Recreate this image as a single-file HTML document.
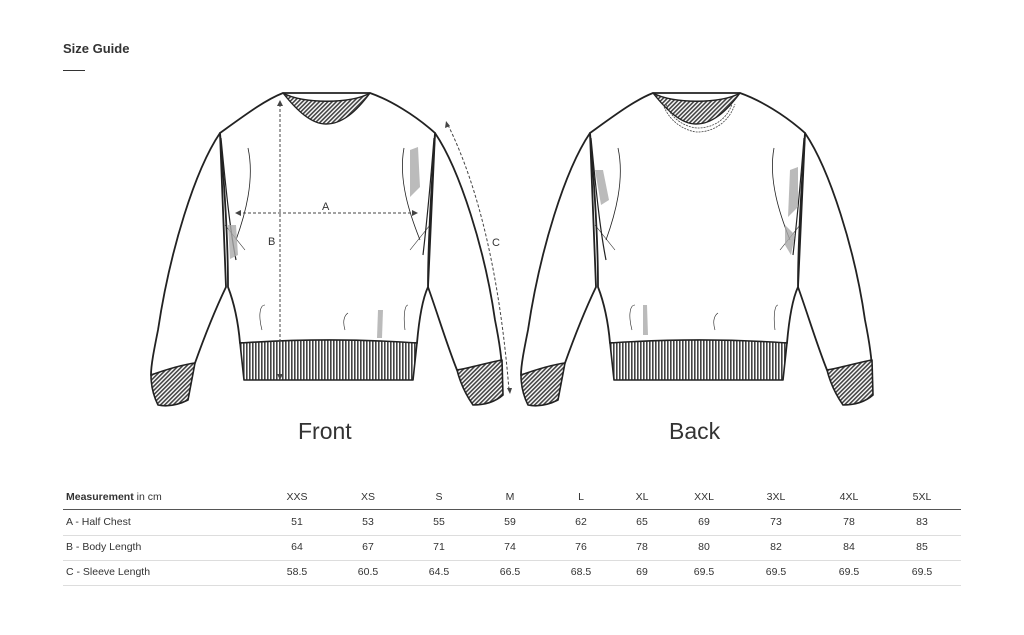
<!DOCTYPE html>
<html><head><meta charset="utf-8">
<style>
body{margin:0;width:1024px;height:635px;background:#fff;font-family:"Liberation Sans",sans-serif;color:#333;position:relative;overflow:hidden}
.t{position:absolute;white-space:nowrap}
.c{position:absolute;transform:translateX(-50%);font-size:10.5px;color:#333}
.ln{position:absolute;left:63px;width:898px;height:1px;background:#ddd}
</style></head><body>
<div class="t" style="left:63px;top:41px;font-size:13px;font-weight:bold;color:#333">Size Guide</div>
<div style="position:absolute;left:63px;top:70px;width:22px;height:1px;background:#333"></div>

<svg width="1024" height="635" style="position:absolute;left:0;top:0">
<defs>
<pattern id="rib" width="3" height="10" patternUnits="userSpaceOnUse"><rect width="3" height="10" fill="#fff"/><rect width="1.6" height="10" fill="#444"/></pattern>
<pattern id="diag" width="3" height="3" patternUnits="userSpaceOnUse" patternTransform="rotate(45)"><rect width="3" height="3" fill="#fff"/><rect width="1.6" height="3" fill="#444"/></pattern>
<g id="sw" stroke="#222" stroke-width="1.8" fill="#fff" stroke-linejoin="round">
<path d="M220,133 C195,170 170,250 158,330 C154,350 151,365 151,375 L195,363 C205,335 215,310 226,287 Z"/>
<path d="M435,133 C460,170 485,250 495,320 C500,345 502,360 502,372 L457,370 C447,345 438,315 428,287 Z"/>
<path d="M220,133 C245,115 265,100 283,93 L370,93 C390,100 415,115 435,133 C432,180 428,240 428,287 C422,300 419,320 417,343 L240,343 C238,320 233,300 228,287 C228,240 224,180 220,133 Z"/>
<path d="M283,93 C298,112 312,124 326,124 C342,124 356,112 370,93 C352,104 302,104 283,93 Z" fill="url(#diag)" stroke-width="1.4"/>
<path d="M240,343 C300,339 360,339 417,343 L413,380 L244,380 Z" fill="url(#rib)" stroke-width="1.6"/>
<path d="M151,375 C165,370 180,365 195,363 L188,400 C178,405 168,407 158,405 C153,395 151,385 151,375 Z" fill="url(#diag)" stroke-width="1.6"/>
<path d="M457,370 C470,368 490,362 502,360 L503,395 C495,402 485,405 473,405 C466,395 460,382 457,370 Z" fill="url(#diag)" stroke-width="1.6"/>
<path d="M221,138 C226,190 230,230 236,260" fill="none" stroke-width="1.2"/>
<path d="M434,138 C430,190 427,220 423,255" fill="none" stroke-width="1.2"/>
<path d="M248,148 C255,180 245,215 236,240" fill="none" stroke-width="0.8"/>
<path d="M404,148 C398,180 410,215 420,240" fill="none" stroke-width="0.8"/>
<path d="M225,225 L245,250 M410,250 L430,225" fill="none" stroke-width="0.6"/>
<path d="M262,330 C258,315 260,305 265,305 M345,330 C342,320 345,315 348,313 M405,330 C403,315 405,305 408,305" fill="none" stroke-width="0.6"/>
</g>
</defs>
<use href="#sw"/>
<use href="#sw" transform="translate(370,0)"/>
<path d="M663,104 C670,125 690,132 698,132 C710,132 728,125 735,104" fill="none" stroke="#444" stroke-width="0.8" stroke-dasharray="2,1"/>
<path d="M666,104 C672,122 690,128 698,128 C710,128 726,122 732,104" fill="none" stroke="#444" stroke-width="0.8" stroke-dasharray="2,1"/>
<g fill="#aaa" opacity=".8">
<path d="M228,225 l8,0 l2,30 l-8,4 Z"/><path d="M410,150 l8,-3 l2,40 l-10,10 Z"/><path d="M378,310 l5,0 l-1,28 l-5,0 Z"/>
<path d="M790,170 l8,-3 l0,40 l-10,10 Z"/><path d="M595,170 l8,0 l6,30 l-8,5 Z"/><path d="M785,225 l10,10 l-4,20 l-6,-10 Z"/><path d="M643,305 l4,0 l1,30 l-5,0 Z"/>
</g>
<g stroke="#444" stroke-width="1" stroke-dasharray="3,2" fill="none">
<line x1="280" y1="104" x2="280" y2="375"/>
<line x1="238" y1="213" x2="414" y2="213"/>
<path d="M448,125 C480,190 500,280 509,390"/>
</g>
<g fill="#444">
<path d="M280,100 l-3,6 l6,0 Z"/><path d="M280,380 l-3,-6 l6,0 Z"/>
<path d="M235,213 l6,-3 l0,6 Z"/><path d="M418,213 l-6,-3 l0,6 Z"/>
<path d="M446,121 l-1,7 l5,-2 Z"/><path d="M510,394 l-3,-6 l5,0 Z"/>
</g>
<g font-family="Liberation Sans" font-size="11" fill="#333">
<text x="322" y="210">A</text><text x="268" y="245">B</text><text x="492" y="246">C</text>
</g>
</svg>

<div class="t" style="left:298px;top:418px;font-size:23px;color:#333">Front</div>
<div class="t" style="left:669px;top:418px;font-size:23px;color:#333">Back</div>

<div class="t" style="left:66px;top:491px;font-size:10.5px"><b>Measurement</b> in cm</div>
<div class="ln" style="top:509px;background:#555"></div>
<div class="t" style="left:66px;top:516px;font-size:10.5px">A - Half Chest</div>
<div class="ln" style="top:535px"></div>
<div class="t" style="left:66px;top:541px;font-size:10.5px">B - Body Length</div>
<div class="ln" style="top:560px"></div>
<div class="t" style="left:66px;top:566px;font-size:10.5px">C - Sleeve Length</div>
<div class="ln" style="top:585px"></div>

<div id="cols"></div>
<script>
var xs=[297,368,439,510,581,642,704,776,849,922];
var rows=[["XXS","XS","S","M","L","XL","XXL","3XL","4XL","5XL"],
["51","53","55","59","62","65","69","73","78","83"],
["64","67","71","74","76","78","80","82","84","85"],
["58.5","60.5","64.5","66.5","68.5","69","69.5","69.5","69.5","69.5"]];
var ys=[491,516,541,566],h="";
rows.forEach(function(r,i){r.forEach(function(v,j){h+='<div class="c" style="left:'+xs[j]+'px;top:'+ys[i]+'px">'+v+'</div>';});});
document.getElementById("cols").innerHTML=h;
</script>
</body></html>
